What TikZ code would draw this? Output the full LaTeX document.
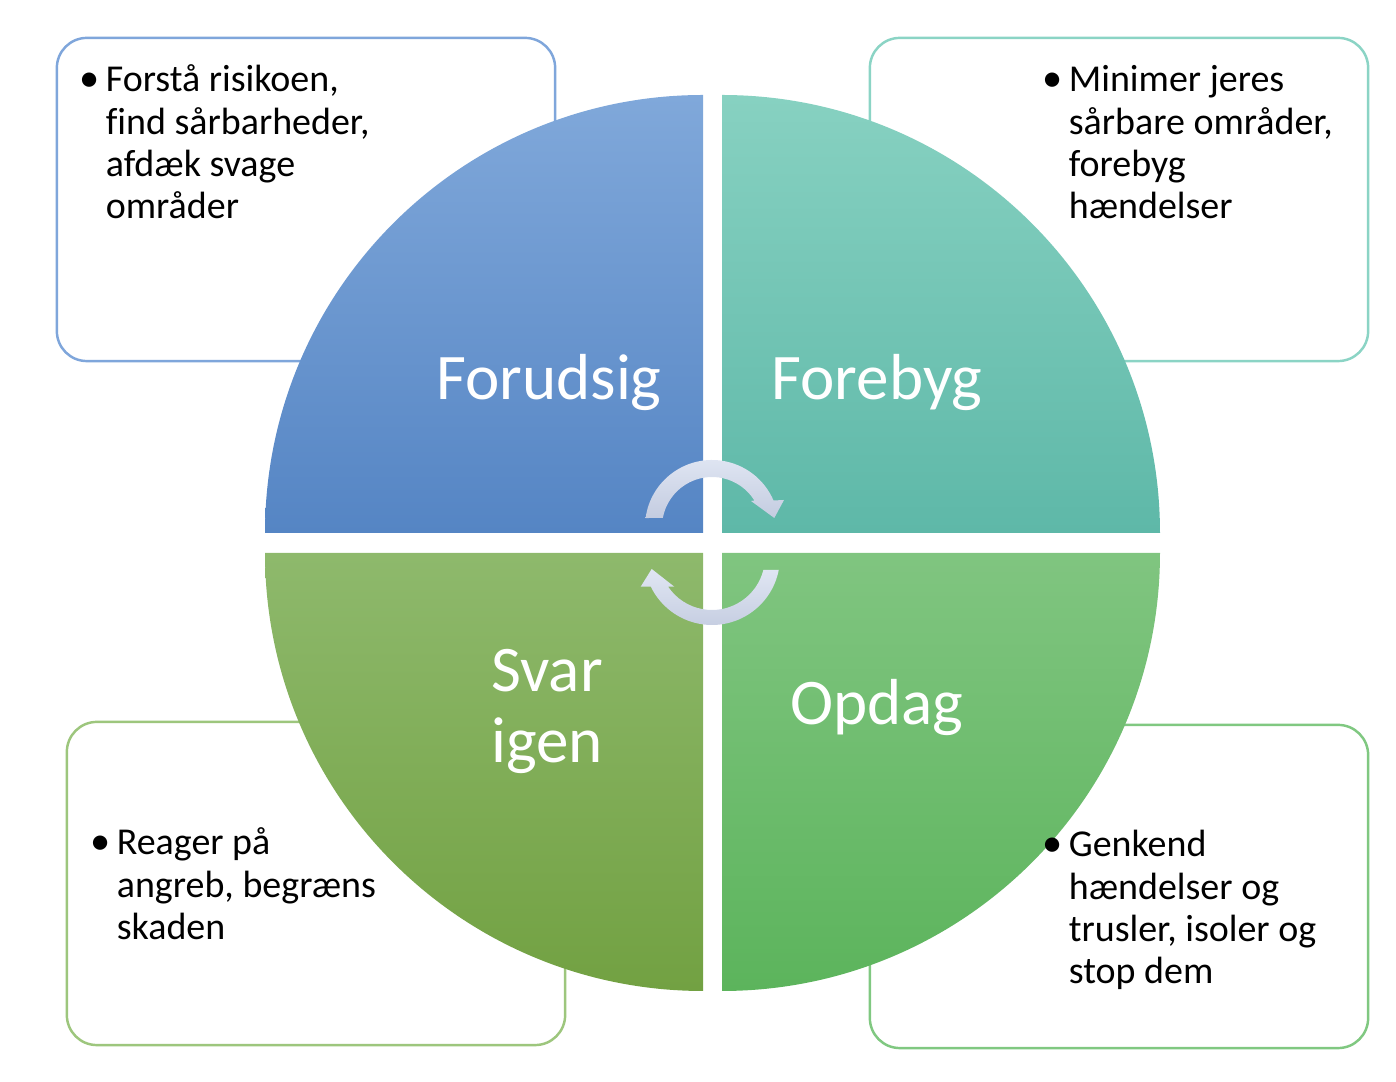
\documentclass[tikz,border=0pt]{standalone}
\usepackage{fontspec}
\setmainfont{Carlito}[Ligatures=NoCommon]
\usetikzlibrary{calc}

\definecolor{tlTop}{HTML}{80A8DA}
\definecolor{tlBot}{HTML}{5585C4}
\definecolor{trTop}{HTML}{87D1C1}
\definecolor{trBot}{HTML}{5EB8A8}
\definecolor{blTop}{HTML}{8EB96C}
\definecolor{blBot}{HTML}{72A142}
\definecolor{brTop}{HTML}{80C580}
\definecolor{brBot}{HTML}{5CB45C}
\definecolor{tlLine}{HTML}{7FA6DB}
\definecolor{trLine}{HTML}{8BD4C5}
\definecolor{blLine}{HTML}{9DC67D}
\definecolor{brLine}{HTML}{80C881}
\definecolor{arrLight}{HTML}{E0E6F3}
\definecolor{arrDark}{HTML}{C4CCE0}

% bullet mark set a little larger than the body text
\newcommand{\itemmark}{\makebox[6.3pt][l]{\hspace*{-1.3pt}\raisebox{0.1pt}{\fontsize{11.5pt}{11.5pt}\selectfont\textbullet}}}

\begin{document}
\begin{tikzpicture}[x=0.01cm,y=0.01cm,
  infobox/.style={draw, line width=0.7pt, fill=white, rounded corners=0.3cm,
    inner sep=0pt, minimum width=4.98cm, minimum height=3.23cm},
  bullettext/.style={anchor=base west, inner sep=0pt, text=black,
    font=\fontsize{10.8pt}{11.95pt}\selectfont},
  phase/.style={anchor=base, inner sep=0pt, text=white, text width=3cm,
    align=center, font=\fontsize{18.5pt}{20pt}\selectfont},
  cyclearrow/.style={top color=arrLight, bottom color=arrDark}]
\useasboundingbox (0,0) rectangle (1396,1082);

% outlined boxes behind the circle
\node[infobox, draw=tlLine] (boxTL) at (306,882.5) {};
\node[infobox, draw=trLine] (boxTR) at (1119,882.5) {};
\node[infobox, draw=blLine] (boxBL) at (316,198.5) {};
\node[infobox, draw=brLine] (boxBR) at (1119,195.5) {};

% four quarter discs
\shade[top color=tlTop, bottom color=tlBot]
  (703,549) -- (265,549) arc[start angle=180, end angle=90, radius=438] -- cycle;
\shade[top color=trTop, bottom color=trBot]
  (722,549) -- (722,987) arc[start angle=90, end angle=0, radius=438] -- cycle;
\shade[top color=blTop, bottom color=blBot]
  (703,529) -- (265,529) arc[start angle=180, end angle=270, radius=438] -- cycle;
\shade[top color=brTop, bottom color=brBot]
  (722,529) -- (1160,529) arc[start angle=0, end angle=-90, radius=438] -- cycle;

% phase names
\node[phase] (forudsig) at (549,682) {Forudsig};
\node[phase] (forebyg) at (877,682) {Forebyg};
\node[phase] (svar) at (547,390) {Svar\\igen};
\node[phase] (opdag) at (877,357) {Opdag};

% circular arrows in the middle
\coordinate (c1) at (712,555);
\coordinate (c2) at (712,525);
\shade[cyclearrow]
  ($(c1)+(172.3:67)$) arc[start angle=172.3, end angle=23.3, radius=67]
  -- (784,582) -- (774.3,564) -- (751,581)
  -- ($(c1)+(32:50)$) arc[start angle=32, end angle=169.6, radius=50] -- cycle;
\shade[cyclearrow]
  ($(c2)+(-11:68)$) arc[start angle=-11, end angle=-154.1, radius=68]
  -- (640.7,495.3) -- (651.7,513) -- (674.3,495.3)
  -- ($(c2)+(-145.9:53)$) arc[start angle=-145.9, end angle=-14.2, radius=53] -- cycle;

% bullet texts
\node[bullettext] (txtTL) at (83,990) {\begin{tabular}[t]{@{}l@{}l@{}}
  \itemmark & Forstå risikoen,\\
  & find sårbarheder,\\
  & afdæk svage\\
  & områder\end{tabular}};
\node[bullettext] (txtTR) at (1046,990) {\begin{tabular}[t]{@{}l@{}l@{}}
  \itemmark & Minimer jeres\\
  & sårbare områder,\\
  & forebyg\\
  & hændelser\end{tabular}};
\node[bullettext] (txtBL) at (94,227) {\begin{tabular}[t]{@{}l@{}l@{}}
  \itemmark & Reager på\\
  & angreb, begræns\\
  & skaden\end{tabular}};
\node[bullettext] (txtBR) at (1046,225) {\begin{tabular}[t]{@{}l@{}l@{}}
  \itemmark & Genkend\\
  & hændelser og\\
  & trusler, isoler og\\
  & stop dem\end{tabular}};
\end{tikzpicture}
\end{document}
